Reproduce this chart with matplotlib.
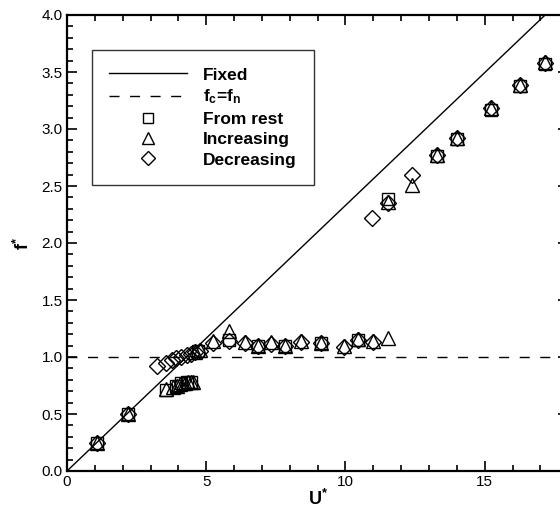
import matplotlib
matplotlib.use("Agg")
import matplotlib.pyplot as plt
from matplotlib.ticker import MultipleLocator, FormatStrFormatter

plt.rcParams['font.family'] = ['Liberation Sans', 'DejaVu Sans']
plt.rcParams['mathtext.fontset'] = 'custom'
plt.rcParams['mathtext.bf'] = 'Liberation Sans:bold'
plt.rcParams['mathtext.rm'] = 'Liberation Sans'

# Reference lines
fixed_slope = 0.233          # f* = slope * U*
fc_fn_level = 1.0            # f_c = f_n

# From rest (squares)
rest_u = [1.08, 2.2, 3.57, 3.9, 4.1, 4.3, 4.45, 4.7, 5.82, 6.86, 7.81, 9.13, 10.44,
          11.54, 13.27, 14.0, 15.24, 16.25, 17.16]
rest_f = [0.25, 0.50, 0.71, 0.75, 0.77, 0.78, 0.78, 1.05, 1.15, 1.10, 1.10, 1.12, 1.15,
          2.39, 2.76, 2.91, 3.17, 3.38, 3.57]

# Increasing (triangles)
inc_u = [1.08, 2.2, 3.57, 3.8, 3.95, 4.05, 4.15, 4.25, 4.35, 4.45, 4.53, 4.6, 4.77,
         5.24, 5.82, 6.38, 6.86, 7.34, 7.81, 8.41, 9.13, 9.96, 10.44, 10.98, 11.52,
         11.54, 12.39, 13.27, 14.0, 15.24, 16.25, 17.16]
inc_f = [0.25, 0.50, 0.72, 0.74, 0.75, 0.76, 0.77, 0.77, 0.78, 0.78, 0.78, 1.04, 1.06,
         1.14, 1.23, 1.13, 1.10, 1.13, 1.10, 1.14, 1.12, 1.10, 1.16, 1.14, 1.17,
         2.36, 2.51, 2.77, 2.92, 3.18, 3.39, 3.59]

# Decreasing (diamonds)
dec_u = [1.08, 2.2, 3.24, 3.57, 3.78, 3.93, 4.11, 4.3, 4.45, 4.6, 4.77, 5.24, 5.82,
         6.38, 6.86, 7.34, 7.81, 8.41, 9.13, 9.96, 10.44, 10.98, 10.96, 11.54, 12.39,
         13.27, 14.0, 15.24, 16.25, 17.16]
dec_f = [0.25, 0.50, 0.92, 0.95, 0.97, 0.99, 1.00, 1.02, 1.03, 1.04, 1.05, 1.12, 1.14,
         1.12, 1.10, 1.11, 1.10, 1.13, 1.12, 1.09, 1.15, 1.13, 2.22, 2.35, 2.60,
         2.77, 2.92, 3.18, 3.39, 3.58]

x_max = 18.0
y_max = 4.0

fig = plt.figure(figsize=(5.6, 5.12), dpi=100)
ax = fig.add_axes([67/560, 41/512, 18*27.85/560, 456/512])

ax.plot([0, x_max], [0, x_max*fixed_slope], color='black', lw=1.0, label='Fixed')
ax.plot([0, x_max], [fc_fn_level, fc_fn_level], color='black', lw=1.0,
        linestyle=(0, (7.2, 7.6)), label=r'$\mathbf{f_c}$=$\mathbf{f_n}$')

ax.plot(rest_u, rest_f, linestyle='none', marker='s', ms=8, mfc='none', mec='black',
        mew=1.0, label='From rest')
ax.plot(inc_u, inc_f, linestyle='none', marker='^', ms=10, mfc='none', mec='black',
        mew=1.0, label='Increasing')
ax.plot(dec_u, dec_f, linestyle='none', marker='D', ms=8, mfc='none', mec='black',
        mew=1.0, label='Decreasing')

ax.set_xlim(0, x_max)
ax.set_ylim(0, y_max)
ax.xaxis.set_major_locator(MultipleLocator(5))
ax.xaxis.set_minor_locator(MultipleLocator(1))
ax.yaxis.set_major_locator(MultipleLocator(0.5))
ax.yaxis.set_minor_locator(MultipleLocator(0.1))
ax.yaxis.set_major_formatter(FormatStrFormatter('%.1f'))
ax.tick_params(which='both', direction='in', top=True, right=True, labelsize=11,
               width=1.2, pad=3)
ax.tick_params(which='major', length=7)
ax.tick_params(which='minor', length=4)
for s in ax.spines.values():
    s.set_linewidth(1.6)

ax.set_xlabel(r'$\mathbf{U^{*}}$', fontsize=13, labelpad=0)
ax.set_ylabel(r'$\mathbf{f^{*}}$', fontsize=13, labelpad=6)

leg = ax.legend(loc='upper left', bbox_to_anchor=(25/502, 1-35/456),
                prop={'weight': 'bold', 'size': 12.5}, frameon=True, fancybox=False,
                edgecolor='black', handlelength=4.5, handletextpad=0.9,
                labelspacing=0.3, borderpad=1.0, borderaxespad=0, markerscale=0.9)
leg.get_frame().set_linewidth(1.0)

fig.savefig('out.png', dpi=100)
